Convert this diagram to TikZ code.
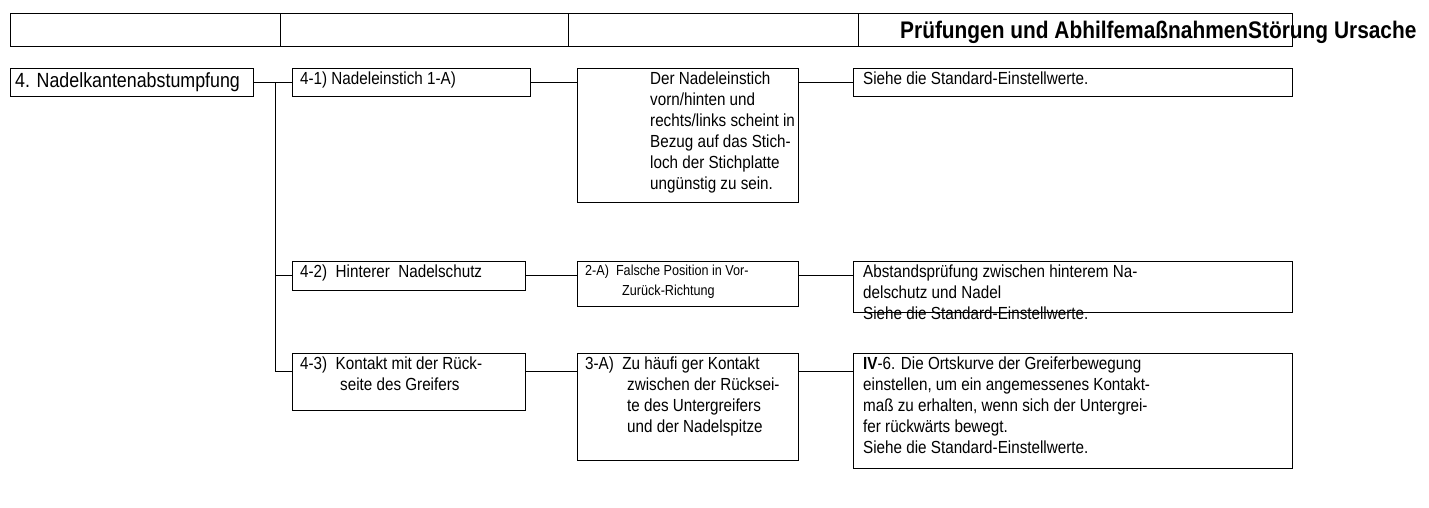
\documentclass[tikz,border=0pt]{standalone}
\usepackage{fontspec}
\setmainfont{Liberation Sans}[FakeStretch=0.87]
\begin{document}
\begin{tikzpicture}[x=1pt,y=-1pt,
  bx/.style={draw,line width=1pt},
  tx/.style={anchor=north west,inner sep=0pt,align=left,font=\fontsize{17.5}{21}\selectfont},
  ln/.style={line width=1pt}]
\useasboundingbox (0,0) rectangle (1429,507);
% header
\draw[bx] (10,13) rectangle (1292,46);
\foreach \x in {280,568,858} \draw[ln] (\x,13) -- (\x,46);
\node[anchor=base west,inner sep=0pt,font=\fontsize{24}{26}\selectfont\bfseries] (hd) at (900,38) {Prüfungen und AbhilfemaßnahmenStörung Ursache};
% boxes
\draw[bx] (10,68) rectangle (253,96);
\node[tx,font=\fontsize{20.5}{21}\selectfont] (a) at (15,72) {4. Nadelkantenabstumpfung};
\draw[bx] (292,68) rectangle (530,96);
\node[tx] (b1) at (300,72) {4-1) Nadeleinstich 1-A)};
\draw[bx] (577,68) rectangle (798,202);
\node[tx] (c1) at (650,72) {Der Nadeleinstich\\vorn/hinten und\\rechts/links scheint in\\Bezug auf das Stich-\\loch der Stichplatte\\ungünstig zu sein.};
\draw[bx] (853,68) rectangle (1292,96);
\node[tx] (d1) at (863,72) {Siehe die Standard-Einstellwerte.};

\draw[bx] (292,261) rectangle (525,290);
\node[tx] (b2) at (300,265) {4-2)\ \ Hinterer\ \ Nadelschutz};
\draw[bx] (577,261) rectangle (798,306);
\node[tx,font=\fontsize{14.5}{20}\selectfont] (c2) at (585,265) {2-A)\ \ Falsche Position in Vor-\\\hspace*{37pt}Zurück-Richtung};
\draw[bx] (853,261) rectangle (1292,312);
\node[tx] (d2) at (863,265) {Abstandsprüfung zwischen hinterem Na-\\delschutz und Nadel\\Siehe die Standard-Einstellwerte.};

\draw[bx] (292,353) rectangle (525,410);
\node[tx] (b3) at (300,357) {4-3)\ \ Kontakt mit der Rück-\\\hspace*{40pt}seite des Greifers};
\draw[bx] (577,353) rectangle (798,460);
\node[tx] (c3) at (585,357) {3-A)\ \ Zu häufi ger Kontakt\\\hspace*{42pt}zwischen der Rücksei-\\\hspace*{42pt}te des Untergreifers\\\hspace*{42pt}und der Nadelspitze};
\draw[bx] (853,353) rectangle (1292,468);
\node[tx] (d3) at (863,357) {\textbf{IV}-6. Die Ortskurve der Greiferbewegung\\einstellen, um ein angemessenes Kontakt-\\maß zu erhalten, wenn sich der Untergrei-\\fer rückwärts bewegt.\\Siehe die Standard-Einstellwerte.};
% connectors
\draw[ln] (253,82) -- (292,82);
\draw[ln] (275,82) -- (275,371) -- (292,371);
\draw[ln] (275,275) -- (292,275);
\draw[ln] (530,82) -- (577,82);
\draw[ln] (798,82) -- (853,82);
\draw[ln] (525,275) -- (577,275);
\draw[ln] (798,275) -- (853,275);
\draw[ln] (525,371) -- (577,371);
\draw[ln] (798,371) -- (853,371);
\end{tikzpicture}
\end{document}
